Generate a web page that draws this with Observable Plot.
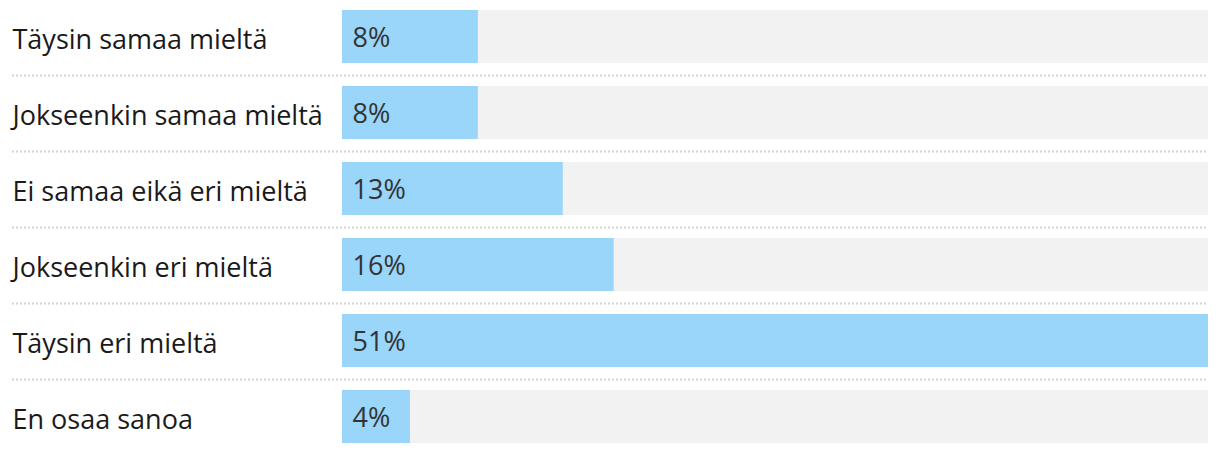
<!DOCTYPE html>
<html>
<head>
<meta charset="utf-8">
<script src="https://cdn.jsdelivr.net/npm/d3@7"></script>
<script src="https://cdn.jsdelivr.net/npm/@observablehq/plot@0.6"></script>
<style>
  html, body { margin: 0; padding: 0; background: #fff; }
  svg { display: block; }
</style>
</head>
<body>
<div id="chart"></div>
<script>
const categories = [
  "Täysin samaa mieltä",
  "Jokseenkin samaa mieltä",
  "Ei samaa eikä eri mieltä",
  "Jokseenkin eri mieltä",
  "Täysin eri mieltä",
  "En osaa sanoa"
];
const values = [8, 8, 13, 16, 51, 4];
const maxValue = 51;

const data = categories.map((c, i) => ({category: c, value: values[i]}));
const separators = categories.slice(0, -1);

const chart = Plot.plot({
  width: 1220,
  height: 454,
  marginTop: 0,
  marginBottom: 0,
  marginLeft: 12,
  marginRight: 12,
  style: {fontFamily: "'Open Sans', sans-serif", fontSize: "27px", background: "#fff"},
  x: {domain: [0, maxValue], range: [342, 1208], axis: null},
  y: {domain: categories, range: [0, 456], padding: 0, axis: null},
  marks: [
    Plot.ruleY(separators, {y: d => d, dy: 37, stroke: "#d4d4d4", strokeWidth: 2, strokeDasharray: "2,2"}),
    Plot.barX(categories, {y: d => d, x1: 0, x2: maxValue, fill: "#f2f2f2", insetTop: 10, insetBottom: 13}),
    Plot.barX(data, {y: "category", x: "value", fill: "#9ad5fa", insetTop: 10, insetBottom: 13}),
    Plot.text(data, {y: "category", text: "category", frameAnchor: "left", textAnchor: "start", fill: "#1a1a1a", fontSize: 27, dy: 1.5}),
    Plot.text(data, {y: "category", x: 0, text: d => d.value + "%", dx: 10, dy: -0.5, textAnchor: "start", fill: "#333", fontSize: 27})
  ]
});
document.getElementById("chart").appendChild(chart);
</script>
</body>
</html>
